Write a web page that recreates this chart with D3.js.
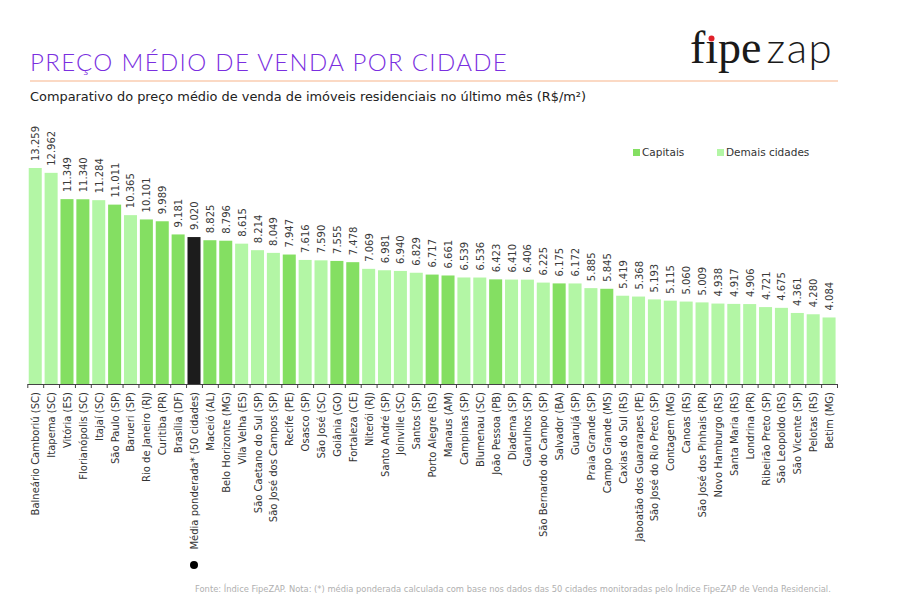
<!DOCTYPE html>
<html>
<head>
<meta charset="utf-8">
<script src="https://cdn.jsdelivr.net/npm/d3@7"></script>
<style>
  html, body { margin: 0; padding: 0; background: #fff; }
  svg { display: block; font-family: "DejaVu Sans", sans-serif; }
</style>
</head>
<body>
<svg id="chart" width="900" height="600"></svg>
<script>
const cities = [
  "Balneário Camboriú (SC)", "Itapema (SC)", "Vitória (ES)", "Florianópolis (SC)", "Itajaí (SC)",
  "São Paulo (SP)", "Barueri (SP)", "Rio de Janeiro (RJ)", "Curitiba (PR)", "Brasília (DF)",
  "Média ponderada* (50 cidades)", "Maceió (AL)", "Belo Horizonte (MG)", "Vila Velha (ES)",
  "São Caetano do Sul (SP)", "São José dos Campos (SP)", "Recife (PE)", "Osasco (SP)",
  "São José (SC)", "Goiânia (GO)", "Fortaleza (CE)", "Niterói (RJ)", "Santo André (SP)",
  "Joinville (SC)", "Santos (SP)", "Porto Alegre (RS)", "Manaus (AM)", "Campinas (SP)",
  "Blumenau (SC)", "João Pessoa (PB)", "Diadema (SP)", "Guarulhos (SP)",
  "São Bernardo do Campo (SP)", "Salvador (BA)", "Guarujá (SP)", "Praia Grande (SP)",
  "Campo Grande (MS)", "Caxias do Sul (RS)", "Jaboatão dos Guararapes (PE)",
  "São José do Rio Preto (SP)", "Contagem (MG)", "Canoas (RS)", "São José dos Pinhais (PR)",
  "Novo Hamburgo (RS)", "Santa Maria (RS)", "Londrina (PR)", "Ribeirão Preto (SP)",
  "São Leopoldo (RS)", "São Vicente (SP)", "Pelotas (RS)", "Betim (MG)"
];
const prices = [
  13259, 12962, 11349, 11340, 11284, 11011, 10365, 10101, 9989, 9181,
  9020, 8825, 8796, 8615, 8214, 8049, 7947, 7616, 7590, 7555,
  7478, 7069, 6981, 6940, 6829, 6717, 6661, 6539, 6536, 6423,
  6410, 6406, 6225, 6175, 6172, 5885, 5845, 5419, 5368, 5193,
  5115, 5060, 5009, 4938, 4917, 4906, 4721, 4675, 4361, 4280, 4084
];
// C = capital, D = demais cidades, M = média ponderada
const groups = [
  "D","D","C","C","D","C","D","C","C","C",
  "M","C","C","D","D","D","C","D","D","C",
  "C","D","D","D","D","C","C","D","D","C",
  "D","D","D","C","D","D","C","D","D","D",
  "D","D","D","D","D","D","D","D","D","D","D"
];
const legendLabels = ["Capitais", "Demais cidades"];
const titleText = "PREÇO MÉDIO DE VENDA POR CIDADE";
const subtitleText = "Comparativo do preço médio de venda de imóveis residenciais no último mês (R$/m²)";
const footText = "Fonte: Índice FipeZAP. Nota: (*) média ponderada calculada com base nos dados das 50 cidades monitoradas pelo Índice FipeZAP de Venda Residencial.";

const colors = { C: "#84df62", D: "#b3f6a5", M: "#1c1c1c" };
const data = cities.map((c, i) => ({ city: c, value: prices[i], group: groups[i] }));

const svg = d3.select("#chart");
const fontMain = "'DejaVu Sans', sans-serif";

// Header
svg.append("text").attr("x", 30).attr("y", 71)
  .attr("font-size", 24).attr("font-weight", 300).attr("fill", "#7a2fe0")
  .attr("font-family", "Lato, sans-serif").attr("letter-spacing", 1.35)
  .text(titleText);
svg.append("line").attr("x1", 30).attr("x2", 838).attr("y1", 81).attr("y2", 81)
  .attr("stroke", "#f7b48a").attr("stroke-width", 1.2);
svg.append("text").attr("x", 30).attr("y", 101)
  .attr("font-size", 12.9).attr("fill", "#222")
  .attr("font-family", fontMain)
  .text(subtitleText);

// Logo
const logo = svg.append("text").attr("x", 690).attr("y", 63).attr("fill", "#1a1a1a");
logo.append("tspan").attr("font-family", "'Liberation Serif', serif").attr("font-size", 46).text("fıpe");
logo.append("tspan").attr("font-family", "Lato, sans-serif").attr("font-weight", 300)
  .attr("font-size", 42).attr("dx", 5).attr("letter-spacing", 1.5).text("zap");
svg.append("circle").attr("cx", 711.5).attr("cy", 38.5).attr("r", 3).attr("fill", "#e0202a");

// Scales
const x = d3.scaleBand().domain(cities).range([27.3, 837]).paddingInner(0.18).paddingOuter(0.09);
const y = d3.scaleLinear().domain([0, 13259]).range([384, 168]);
const fmt = d3.formatLocale({ decimal: ",", thousands: ".", grouping: [3], currency: ["R$", ""] }).format(",d");

// Bars
svg.append("g").selectAll("rect").data(data).join("rect")
  .attr("x", d => x(d.city)).attr("width", x.bandwidth())
  .attr("y", d => y(d.value)).attr("height", d => y(0) - y(d.value))
  .attr("fill", d => colors[d.group]);

// Value labels
svg.append("g").selectAll("text").data(data).join("text")
  .attr("transform", d => `translate(${x(d.city) + x.bandwidth() / 2 + 4},${y(d.value) - 7}) rotate(-90)`)
  .attr("font-size", 10).attr("fill", "#3a3a3a").attr("font-family", fontMain)
  .text(d => fmt(d.value));

// Axis with boundary ticks
const xb = d3.scaleLinear().domain([0, cities.length]).range([27.3, 837]);
const axis = svg.append("g").attr("transform", "translate(0,384)")
  .call(d3.axisBottom(xb).tickValues(d3.range(cities.length + 1)).tickFormat("").tickSize(4).tickSizeOuter(0));
axis.select(".domain").attr("stroke", "#444");
axis.selectAll(".tick line").attr("stroke", "#444");

// Category labels
svg.append("g").selectAll("text").data(data).join("text")
  .attr("transform", d => `translate(${x(d.city) + x.bandwidth() / 2 + 4},392) rotate(-90)`)
  .attr("text-anchor", "end")
  .attr("font-size", 10).attr("fill", "#333").attr("font-family", fontMain)
  .text(d => d.city);

// Black dot marker for the weighted mean
const mi = groups.indexOf("M");
svg.append("circle").attr("cx", x(cities[mi]) + x.bandwidth() / 2).attr("cy", 565).attr("r", 4).attr("fill", "#000");

// Legend
const lg = svg.append("g").attr("font-family", fontMain).attr("font-size", 10.5).attr("fill", "#333");
[["C", 633, legendLabels[0]], ["D", 717, legendLabels[1]]].forEach(([g, lx, t]) => {
  lg.append("rect").attr("x", lx).attr("y", 149).attr("width", 7).attr("height", 7).attr("fill", colors[g]);
  lg.append("text").attr("x", lx + 9).attr("y", 156).text(t);
});

// Footer
svg.append("text").attr("x", 195).attr("y", 592)
  .attr("font-size", 8.35).attr("fill", "#b0b0b0").attr("font-family", fontMain)
  .text(footText);
</script>
</body>
</html>
